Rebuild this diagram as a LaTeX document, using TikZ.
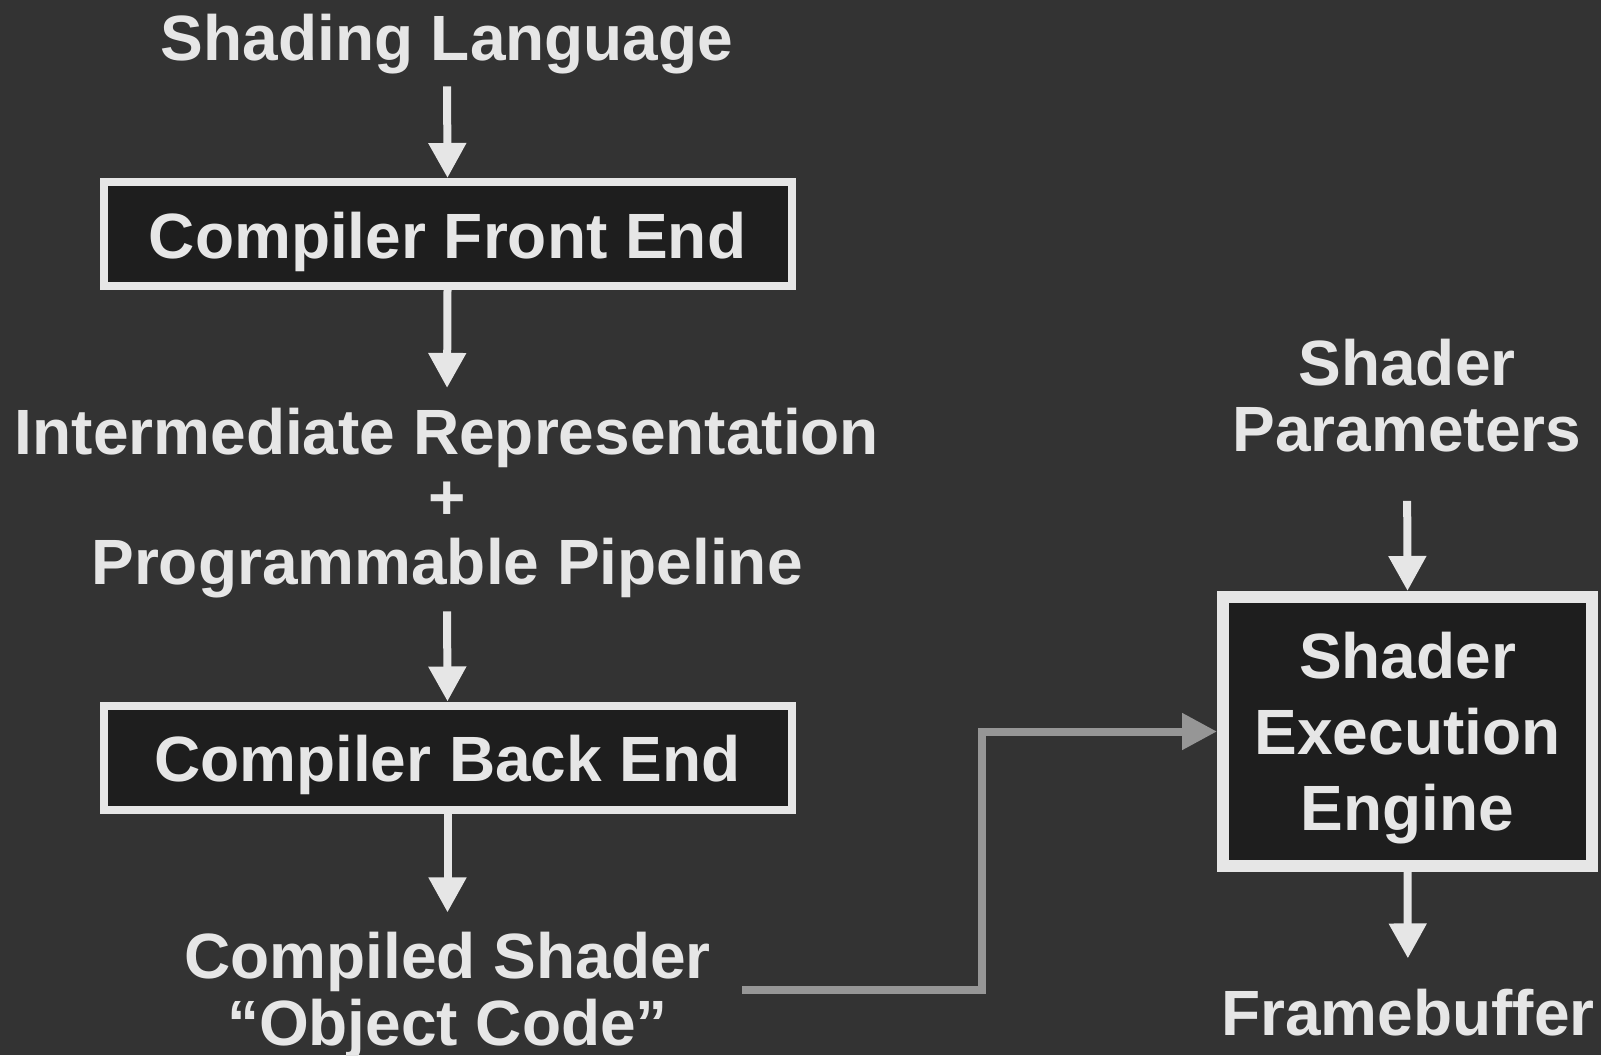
\documentclass[tikz,border=0pt]{standalone}
\usepackage{fontspec}
\setmainfont{Liberation Sans}
\usetikzlibrary{arrows.meta}
\definecolor{bg}{HTML}{333333}
\definecolor{fg}{HTML}{E6E6E6}
\definecolor{boxfill}{HTML}{1E1E1E}
\definecolor{conn}{HTML}{969696}
\begin{document}
\begin{tikzpicture}[x=1pt,y=-1pt,
  txt/.style={text=fg, font=\fontsize{64}{65}\selectfont\bfseries, inner sep=0pt, align=center},
  stagebox/.style={draw=fg, fill=boxfill, line width=8pt, minimum width=688pt, minimum height=104pt,
    inner sep=0pt, text=fg, font=\fontsize{64}{65}\selectfont\bfseries, text height=48pt, text depth=0pt},
  enginebox/.style={draw=fg, fill=boxfill, line width=12pt, minimum width=369pt, minimum height=269pt,
    inner sep=0pt, text=fg, font=\fontsize{64}{76}\selectfont\bfseries, align=center, text depth=0pt},
  flow/.style={draw=fg, line width=8pt, -{Triangle[length=35pt,width=36pt]}},
  feed/.style={draw=conn, line width=8pt, -{Triangle[length=35pt,width=35pt]}}]
\fill[bg] (0,0) rectangle (1601,1055);
\useasboundingbox (0,0) rectangle (1601,1055);

\node[txt, anchor=base] (sl) at (447,60) {Shading Language};
\node[stagebox] (fe) at (447.5,234) {Compiler Front End};
\node[txt, anchor=base] (ir) at (447,584) {Intermediate Representation\\+\\Programmable Pipeline};
\node[stagebox] (be) at (447.5,757.5) {Compiler Back End};
\node[txt, anchor=base, font=\fontsize{64}{67}\selectfont\bfseries] (cs) at (447.5,1045) {Compiled Shader\\“Object Code”};
\node[txt, anchor=base, font=\fontsize{64}{66}\selectfont\bfseries] (sp) at (1407,451) {Shader\\Parameters};
\node[enginebox] (se) at (1407.5,731.5) {Shader\\Execution\\Engine};
\node[txt, anchor=base] (fb) at (1408,1035) {Framebuffer};
\coordinate (gs) at (742,990);

\draw[flow, shorten <=12.6pt] (sl.south) -- (fe.north);
\draw[flow, shorten >=19.5pt] (fe.south) -- (ir.north);
\draw[flow, shorten <=13.5pt] (ir.south) -- (be.north);
\draw[flow, shorten >=19pt] (be.south) -- (cs.north);
\draw[flow, shorten <=49pt] (sp.south) -- (se.north);
\draw[flow, shorten >=30pt] (se.south) -- (fb.north);
\draw[feed] (gs) -- ++(240,0) |- (se.west);
\end{tikzpicture}
\end{document}
